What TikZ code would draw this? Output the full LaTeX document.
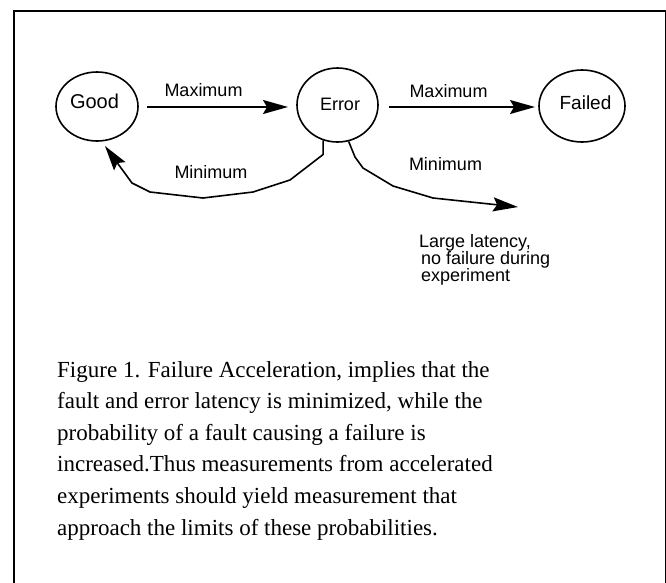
\documentclass[tikz,border=0pt]{standalone}
\usepackage{fontspec}
\setmainfont{Liberation Serif}
\newfontfamily\lsans{Liberation Sans}
\usetikzlibrary{shapes.geometric,arrows.meta}
\tikzset{
  x=1pt, y=-1pt,
  statenode/.style={ellipse, draw, line width=1.6pt, inner sep=0pt},
  lbl/.style={font=\lsans\fontsize{18}{18}\selectfont, inner sep=0pt},
  latline/.style={lbl, anchor=base west, text height=12pt, text depth=3pt},
  captxt/.style={font=\fontsize{23}{23}\selectfont, inner sep=0pt, anchor=base west},
  arr/.style={line width=1.6pt, line join=round, -{Stealth[length=25pt,width=14pt,inset=4pt]}},
}
\begin{document}
\begin{tikzpicture}
\useasboundingbox (0,0) rectangle (666,582);
\clip (0,0) rectangle (666,582);
\draw[line width=2pt] (14.3,600) -- (14.3,11.3) -- (665.5,11.3) -- (665.5,600);

\node[statenode, minimum width=82pt, minimum height=69pt,
      label={[lbl, font=\lsans\fontsize{20}{20}\selectfont, yshift=5.5pt, xshift=-2.5pt]center:Good}] (good) at (97,106.5) {};
\node[statenode, minimum width=81pt, minimum height=74pt,
      label={[lbl, yshift=1pt, xshift=2.5pt]center:Error}] (err) at (337.5,105) {};
\node[statenode, minimum width=86pt, minimum height=72pt,
      label={[lbl, font=\lsans\fontsize{19}{19}\selectfont, yshift=3pt, xshift=3.5pt]center:Failed}] (fail) at (582,106) {};

\draw[arr] (147,107) coordinate (g1) -- (288,107) coordinate (g2);
\node[lbl, anchor=base] (max1) at (203.5,96) {Maximum};
\draw[arr] (389,107) coordinate (e1) -- (535,107) coordinate (e2);
\node[lbl, anchor=base] (max2) at (448.5,97) {Maximum};

\draw[arr] (err.248) -- ++(0,14) -- (290,180) -- (253,192) -- (203,198)
  -- (150,192) -- (132,183) -- (105,146) coordinate (gtip);
\node[lbl, anchor=base] (min1) at (211,178.3) {Minimum};

\draw[arr] (err.-73) -- (355,157) -- (363,168) -- (393,186) -- (433,198)
  -- (518,207) coordinate (lat);
\node[lbl, anchor=base] (min2) at (445.5,170.5) {Minimum};

\node[latline] (lat1) at (419,247) {Large latency,};
\node[latline] (lat2) at (421,264) {no failure during};
\node[latline] (lat3) at (421,281) {experiment};

\node[captxt] (c1) at (57,377) {Figure 1. Failure Acceleration, implies that the};
\node[captxt] (c2) at (57,408.6) {fault and error latency is minimized, while the};
\node[captxt] (c3) at (57,440.2) {probability of a fault causing a failure is};
\node[captxt] (c4) at (57,471.8) {increased.Thus measurements from accelerated};
\node[captxt] (c5) at (57,503.4) {experiments should yield measurement that};
\node[captxt] (c6) at (57,535) {approach the limits of these probabilities.};
\end{tikzpicture}
\end{document}
